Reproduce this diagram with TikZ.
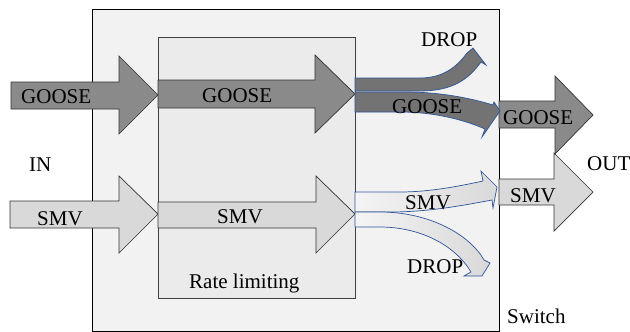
\documentclass[tikz,border=0pt]{standalone}
\usepackage{fontspec}
\setmainfont{Liberation Serif}
\definecolor{swfill}{HTML}{F2F2F2}
\definecolor{rlfill}{HTML}{EBEBEB}
\definecolor{goosefill}{HTML}{8A8A8A}
\definecolor{goosedark}{HTML}{737373}
\definecolor{smvfill}{HTML}{D9D9D9}
\definecolor{smvlight}{HTML}{F4F4F4}
\definecolor{curveline}{HTML}{2F5597}
\begin{document}
\begin{tikzpicture}[x=1pt,y=-1pt,
  lbl/.style={inner sep=0pt,anchor=base west,font=\fontsize{21}{25}\selectfont},
  boxframe/.style={draw=black,line width=0.9pt},
  goosearrow/.style={fill=goosefill,draw=black!80,line width=0.7pt},
  smvarrow/.style={fill=smvfill,draw=black!80,line width=0.7pt},
  goosecurve/.style={fill=goosedark,draw=curveline,line width=0.7pt},
  smvcurve/.style={left color=smvlight,right color=smvfill,draw=curveline,line width=0.7pt}]
\useasboundingbox (0,0) rectangle (630,332);
% boxes
\path[boxframe,fill=swfill] (92,9) rectangle (499,331);
\path[fill=rlfill,draw=black!75,line width=0.8pt] (158,37) rectangle (355,298);
% straight GOOSE arrows
\path[goosearrow] (11,82) -- (119,82) -- (119,56) -- (158,95) -- (119,134) -- (119,109) -- (11,109) -- cycle;
\path[goosearrow] (158,80) -- (315,80) -- (315,55) -- (355,94) -- (315,133) -- (315,108) -- (158,108) -- cycle;
% straight SMV arrows
\path[smvarrow] (10,201) -- (119,201) -- (119,176) -- (158,214) -- (119,253) -- (119,228) -- (10,228) -- cycle;
\path[smvarrow] (158,202) -- (316,202) -- (316,176) -- (355,214) -- (316,253) -- (316,228) -- (158,228) -- cycle;
% output arrows
\path[smvarrow] (499,179) -- (554,179) -- (554,153) -- (593,192) -- (554,231) -- (554,205) -- (499,205) -- cycle;
\path[goosearrow] (499,101) -- (555,101) -- (555,76) -- (593,115) -- (555,154) -- (555,128) -- (499,128) -- cycle;
% curved GOOSE arrows
\path[goosecurve] (355,78) -- (420,78) .. controls (445,78) and (458,65) .. (467,53)
  -- (473,48) -- (486,65) -- (481,62) .. controls (468,80) and (452,91) .. (420,91) -- (355,91) -- cycle;
\path[goosecurve] (355,92) -- (405,92) .. controls (440,92) and (470,98) .. (493,105)
  -- (494,102) -- (500,111) -- (482,137) -- (485,129) .. controls (460,118) and (430,112) .. (400,112) -- (355,112) -- cycle;
% curved SMV arrows
\path[smvcurve] (355,192) -- (400,192) .. controls (430,192) and (460,186) .. (483,181)
  -- (481,171) -- (497,187) -- (493,208) -- (492,200) .. controls (465,205) and (430,212) .. (390,212) -- (355,212) -- cycle;
\path[smvcurve] (355,212) -- (380,212) .. controls (430,212) and (470,235) .. (484,260)
  -- (490,263) -- (482,276) -- (464,276) -- (471,272) .. controls (455,245) and (420,227) .. (380,227) -- (355,227) -- cycle;
% labels
\node[lbl] (gin) at (21,103) {GOOSE};
\node[lbl] (gmid) at (202,102) {GOOSE};
\node[lbl] (gcur) at (392,113) {GOOSE};
\node[lbl] (gout) at (503,124) {GOOSE};
\node[lbl] (dtop) at (421,46) {DROP};
\node[lbl] (dbot) at (407,273) {DROP};
\node[lbl] (in) at (29,171) {IN};
\node[lbl] (out) at (587,170) {OUT};
\node[lbl] (sin) at (37,225) {SMV};
\node[lbl] (smid) at (217,223) {SMV};
\node[lbl] (scur) at (405,209) {SMV};
\node[lbl] (sout) at (510,202) {SMV};
\node[lbl] (rate) at (189,288) {Rate limiting};
\node[lbl] (sw) at (507,323) {Switch};
\end{tikzpicture}
\end{document}
